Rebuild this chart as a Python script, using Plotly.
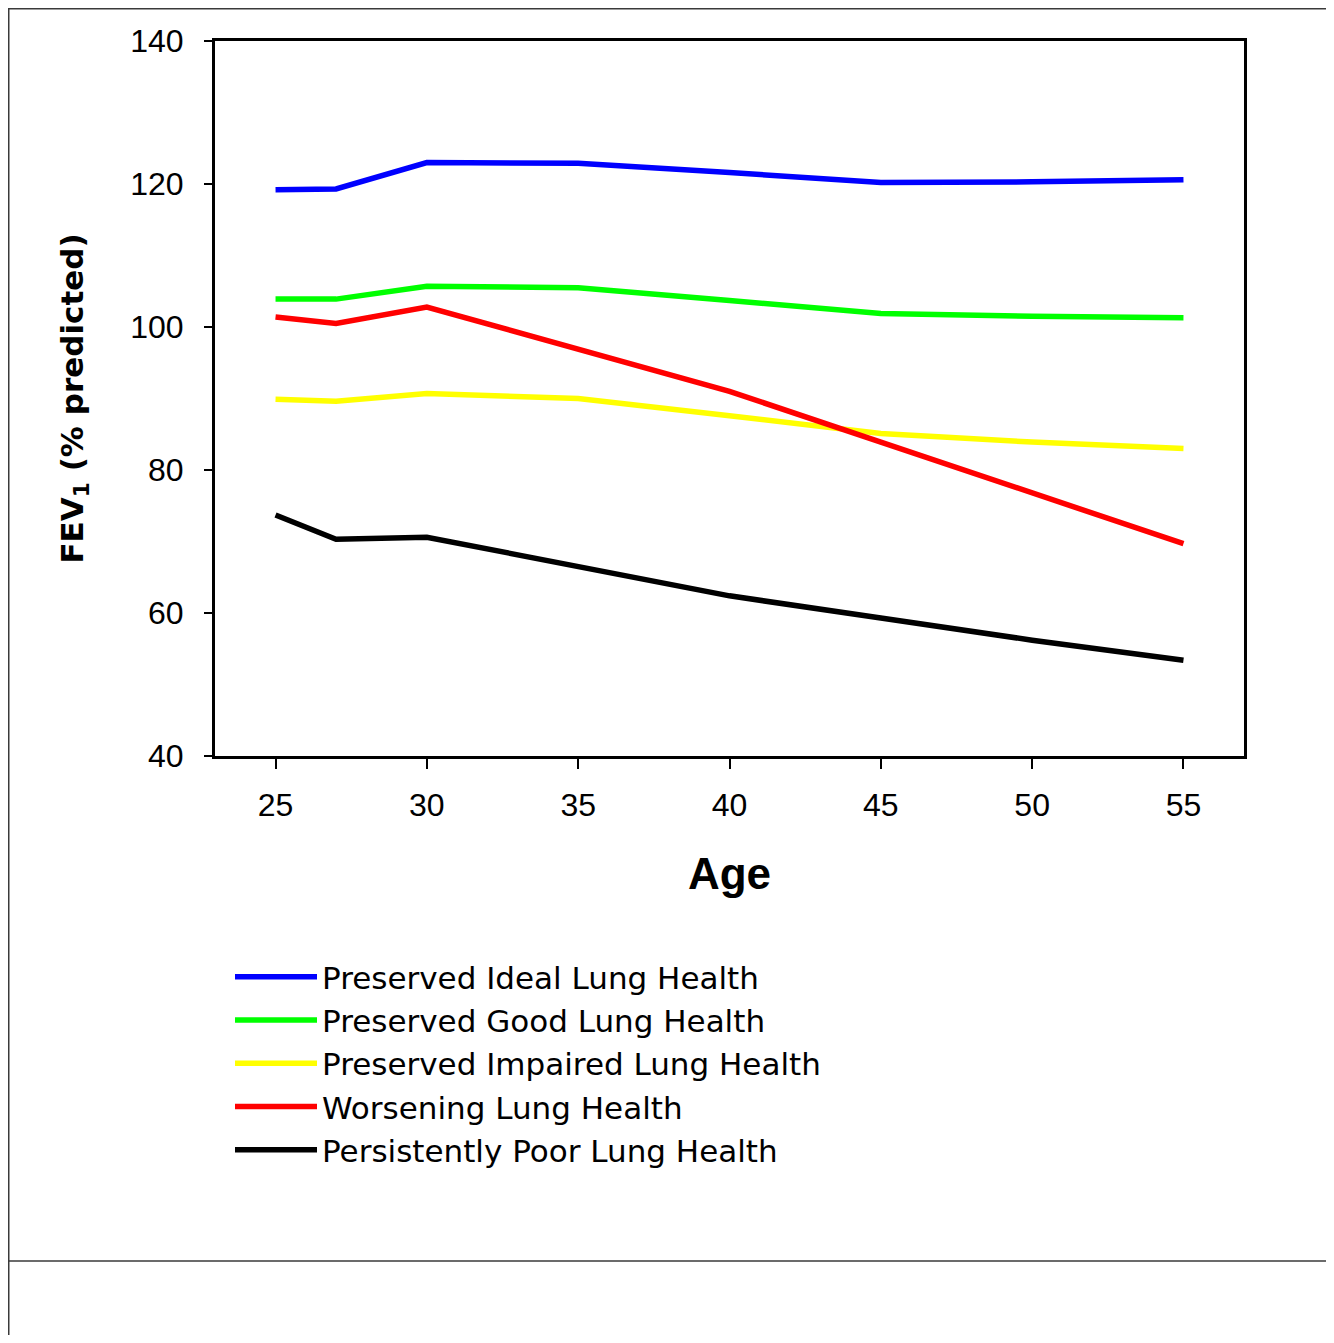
import plotly.graph_objects as go

# ---------------- data ----------------
ages = [25, 27, 30, 35, 40, 45, 50, 55]

series_names = [
    "Preserved Ideal Lung Health",
    "Preserved Good Lung Health",
    "Preserved Impaired Lung Health",
    "Worsening Lung Health",
    "Persistently Poor Lung Health",
]
ideal = [119.2, 119.3, 123.0, 122.9, 121.6, 120.2, 120.3, 120.6]
good = [103.9, 103.9, 105.7, 105.5, 103.7, 101.9, 101.5, 101.3]
impaired = [89.9, 89.6, 90.7, 90.0, 87.6, 85.1, 83.9, 83.0]
worsening = [101.4, 100.5, 102.8, 96.9, 91.0, 83.9, 76.8, 69.7]
poor = [73.7, 70.3, 70.6, 66.5, 62.4, 59.3, 56.2, 53.4]
series_values = [ideal, good, impaired, worsening, poor]
series_colors = ["#0000FF", "#00FF00", "#FFFF00", "#FF0000", "#000000"]

x_ticks = [25, 30, 35, 40, 45, 50, 55]
y_ticks = [40, 60, 80, 100, 120, 140]

# ---------------- layout geometry ----------------
W, H = 1318, 1327          # page body has an 8px margin
L, T = 207, 33
PW, PH = 1029, 715
R = W - L - PW
B = H - T - PH
FONT = "Liberation Sans, Arial, Helvetica, sans-serif"
WIDE = "DejaVu Sans, Verdana, sans-serif"


def px(xf):
    return (xf - L) / PW


def py(yf):
    return 1 - (yf - T) / PH


fig = go.Figure()
for name, vals, col in zip(series_names, series_values, series_colors):
    fig.add_trace(go.Scatter(
        x=ages, y=vals, mode="lines", name=name,
        line=dict(color=col, width=5.5),
    ))

axis_common = dict(
    showline=True, linecolor="black", linewidth=3, mirror=True,
    ticks="outside", tickcolor="black", tickwidth=2,
    showgrid=False, zeroline=False,
    tickfont=dict(family=FONT, size=32, color="black"),
)

fig.update_layout(
    width=W, height=H,
    margin=dict(l=L, r=R, t=T, b=B, pad=0),
    paper_bgcolor="white", plot_bgcolor="white",
    font=dict(family=FONT, color="black"),
    xaxis=dict(
        range=[23, 57], tickvals=x_ticks, ticklen=10,
        ticklabelstandoff=9,
        title=dict(text="<b>Age</b>", font=dict(family=FONT, size=44, color="black"),
                   standoff=36),
        **axis_common,
    ),
    yaxis=dict(
        range=[40, 140], tickvals=y_ticks, ticklen=8,
        ticklabelstandoff=14,
        title=dict(text="<b>FEV<sub>1</sub> (% predicted)</b>",
                   font=dict(family=WIDE, size=31, color="black"),
                   standoff=38),
        **axis_common,
    ),
    showlegend=True,
    legend=dict(
        x=px(222), y=py(942), xanchor="left", yanchor="top",
        font=dict(family=WIDE, size=31, color="black"),
        itemwidth=82, bgcolor="rgba(0,0,0,0)", borderwidth=0,
        tracegroupgap=0,
    ),
    shapes=[
        dict(type="line", xref="paper", yref="paper",
             x0=px(0), x1=px(W), y0=py(0.75), y1=py(0.75),
             line=dict(color="#3a3a3a", width=1.5)),
        dict(type="line", xref="paper", yref="paper",
             x0=px(0.75), x1=px(0.75), y0=py(0), y1=py(H),
             line=dict(color="#3a3a3a", width=1.5)),
        dict(type="line", xref="paper", yref="paper",
             x0=px(0), x1=px(W), y0=py(1253), y1=py(1253),
             line=dict(color="#3a3a3a", width=1.5)),
    ],
)

fig.write_html("out.html")
